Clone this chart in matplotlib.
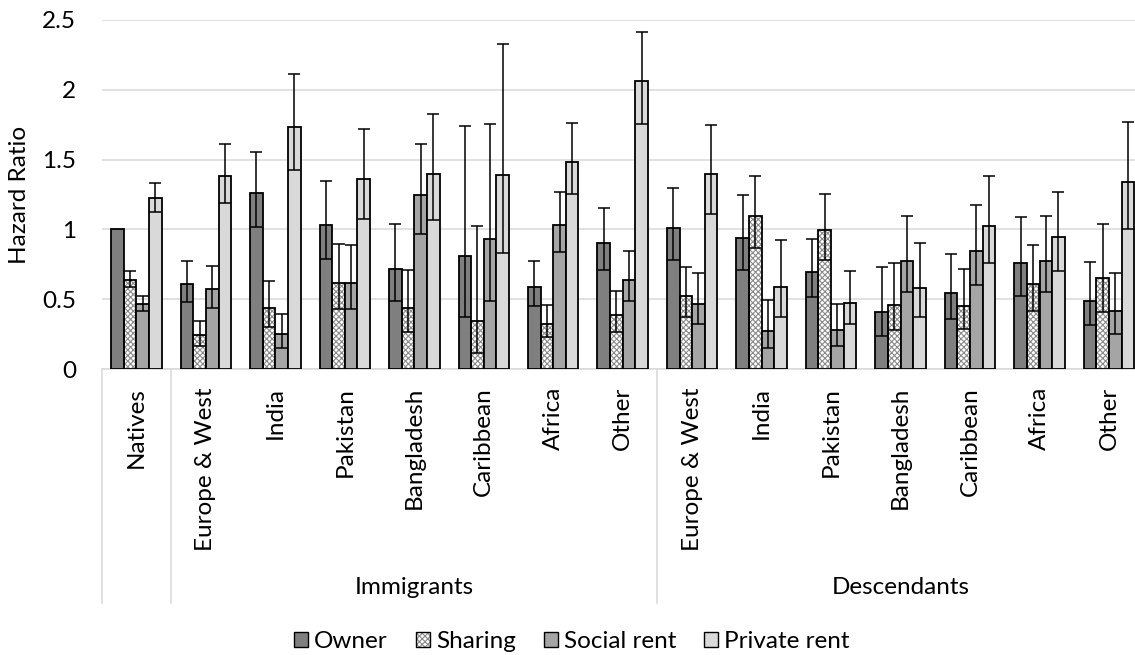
import numpy as np
import matplotlib
matplotlib.use("Agg")
import matplotlib.pyplot as plt
from matplotlib.patches import Patch
from matplotlib.transforms import blended_transform_factory

plt.rcParams["font.family"] = ["Lato", "DejaVu Sans"]
plt.rcParams["hatch.linewidth"] = 0.8

# ---- data -------------------------------------------------------------
categories = ["Natives",
              "Europe & West", "India", "Pakistan", "Bangladesh", "Caribbean", "Africa", "Other",
              "Europe & West", "India", "Pakistan", "Bangladesh", "Caribbean", "Africa", "Other"]
groups = ["Immigrants", "Descendants"]
series = ["Owner", "Sharing", "Social rent", "Private rent"]

owner_hr = [1.00, 0.61, 1.259, 1.034, 0.715, 0.81, 0.59, 0.905,
            1.007, 0.94, 0.694, 0.41, 0.542, 0.758, 0.489]
owner_lo = [np.nan, 0.48, 1.017, 0.79, 0.49, 0.372, 0.448, 0.71,
            0.779, 0.708, 0.518, 0.233, 0.357, 0.525, 0.312]
owner_hi = [np.nan, 0.772, 1.552, 1.345, 1.036, 1.743, 0.775, 1.152,
            1.30, 1.245, 0.93, 0.729, 0.827, 1.089, 0.763]

sharing_hr = [0.64, 0.24, 0.434, 0.619, 0.439, 0.343, 0.321, 0.386,
              0.52, 1.096, 0.993, 0.458, 0.453, 0.607, 0.652]
sharing_lo = [0.588, 0.168, 0.30, 0.429, 0.268, 0.113, 0.228, 0.268,
              0.372, 0.868, 0.782, 0.278, 0.285, 0.415, 0.41]
sharing_hi = [0.70, 0.343, 0.628, 0.897, 0.712, 1.024, 0.456, 0.559,
              0.729, 1.383, 1.252, 0.758, 0.719, 0.887, 1.038]

social_hr = [0.468, 0.571, 0.25, 0.619, 1.245, 0.928, 1.033, 0.64,
             0.468, 0.273, 0.281, 0.777, 0.842, 0.777, 0.417]
social_lo = [0.417, 0.439, 0.153, 0.429, 0.966, 0.487, 0.839, 0.487,
             0.319, 0.153, 0.168, 0.552, 0.60, 0.552, 0.254]
social_hi = [0.52, 0.736, 0.393, 0.885, 1.612, 1.755, 1.268, 0.842,
             0.686, 0.491, 0.468, 1.094, 1.175, 1.094, 0.686]

private_hr = [1.223, 1.383, 1.736, 1.36, 1.396, 1.391, 1.484, 2.06,
              1.394, 0.59, 0.472, 0.58, 1.022, 0.942, 1.336]
private_lo = [1.127, 1.192, 1.424, 1.077, 1.065, 0.833, 1.252, 1.755,
              1.108, 0.374, 0.321, 0.374, 0.76, 0.705, 1.0]
private_hi = [1.333, 1.612, 2.113, 1.719, 1.827, 2.326, 1.76, 2.412,
              1.748, 0.926, 0.70, 0.906, 1.379, 1.268, 1.772]

yticks = [0, 0.5, 1, 1.5, 2, 2.5]
ytick_labels = ["0", "0.5", "1", "1.5", "2", "2.5"]

# ---- figure -----------------------------------------------------------
W, H = 1135, 655
FS = 17.5
fig = plt.figure(figsize=(W / 100, H / 100), dpi=100)
ax_left, ax_right = 101.7, 1143.7
ax_top, ax_bottom = 20.0, 369.0
ax = fig.add_axes([ax_left / W, (H - ax_bottom) / H,
                   (ax_right - ax_left) / W, (ax_bottom - ax_top) / H])

n = len(categories)
x = np.arange(n)
bw = 1 / 5.5
offsets = (np.arange(4) - 1.5) * bw

fills = ["#7f7f7f", "white", "#a5a5a5", "#d9d9d9"]
HATCH_COLOR = "#8a8a8a"
HATCH = "xxxxxx"
hr = [owner_hr, sharing_hr, social_hr, private_hr]
lo = [owner_lo, sharing_lo, social_lo, private_lo]
hi = [owner_hi, sharing_hi, social_hi, private_hi]

EDGE_LW = 1.3
for i in range(4):
    xs = x + offsets[i]
    v = np.array(hr[i], dtype=float)
    if i == 1:
        ax.bar(xs, v, width=bw, color="white", edgecolor=HATCH_COLOR,
               hatch=HATCH, linewidth=0, zorder=2)
        ax.bar(xs, v, width=bw, fill=False, edgecolor="black",
               linewidth=EDGE_LW, zorder=3)
    else:
        ax.bar(xs, v, width=bw, color=fills[i], edgecolor="black",
               linewidth=EDGE_LW, zorder=3)
    l = np.array(lo[i], dtype=float)
    h = np.array(hi[i], dtype=float)
    m = ~np.isnan(l)
    ax.errorbar(xs[m], v[m], yerr=[v[m] - l[m], h[m] - v[m]], fmt="none",
                ecolor="black", elinewidth=1.1, capsize=4.2, capthick=1.1,
                zorder=4)

ax.set_xlim(-0.5, n - 0.5)
ax.set_ylim(0, 2.5)
ax.set_yticks(yticks)
ax.set_yticklabels(ytick_labels)
ax.yaxis.grid(True, color="#d9d9d9", linewidth=1.1)
ax.set_axisbelow(True)
for s in ["left", "right", "top"]:
    ax.spines[s].set_visible(False)
ax.spines["bottom"].set_color("#d9d9d9")
ax.spines["bottom"].set_linewidth(1.1)
ax.tick_params(axis="y", length=0, pad=18.5, labelsize=FS)
ax.set_xticks(x)
ax.set_xticklabels(categories, rotation=90, fontsize=FS)
ax.tick_params(axis="x", length=0, pad=13)

# group separators of the two-level category axis
trans = blended_transform_factory(ax.transData, ax.transAxes)
sep_bottom = (ax_bottom - 603) / (ax_bottom - ax_top)
for xv in [-0.5, 0.5, 7.5, n - 0.5]:
    ax.plot([xv, xv], [0, sep_bottom], transform=trans, color="#d9d9d9",
            linewidth=1.1, clip_on=False)

ftrans = blended_transform_factory(ax.transData, fig.transFigure)
ax.text(4, (H - 587) / H, groups[0], transform=ftrans, ha="center",
        va="center", fontsize=FS)
ax.text(11, (H - 587) / H, groups[1], transform=ftrans, ha="center",
        va="center", fontsize=FS)

fig.text(19.7 / W, (H - 195) / H, "Hazard Ratio", rotation=90,
         ha="center", va="center", fontsize=FS)

# legend
h_owner = Patch(facecolor=fills[0], edgecolor="black", linewidth=1.0)
h_share = (Patch(facecolor="white", edgecolor=HATCH_COLOR, hatch=HATCH, linewidth=0),
           Patch(fill=False, edgecolor="black", linewidth=1.0))
h_social = Patch(facecolor=fills[2], edgecolor="black", linewidth=1.0)
h_private = Patch(facecolor=fills[3], edgecolor="black", linewidth=1.0)
fig.legend([h_owner, h_share, h_social, h_private], series,
           loc="center", bbox_to_anchor=(572 / W, (H - 642) / H),
           ncol=4, frameon=False, fontsize=FS, handlelength=0.58,
           handleheight=0.58, handletextpad=0.25, columnspacing=1.15)

fig.savefig("out.png", dpi=100)
